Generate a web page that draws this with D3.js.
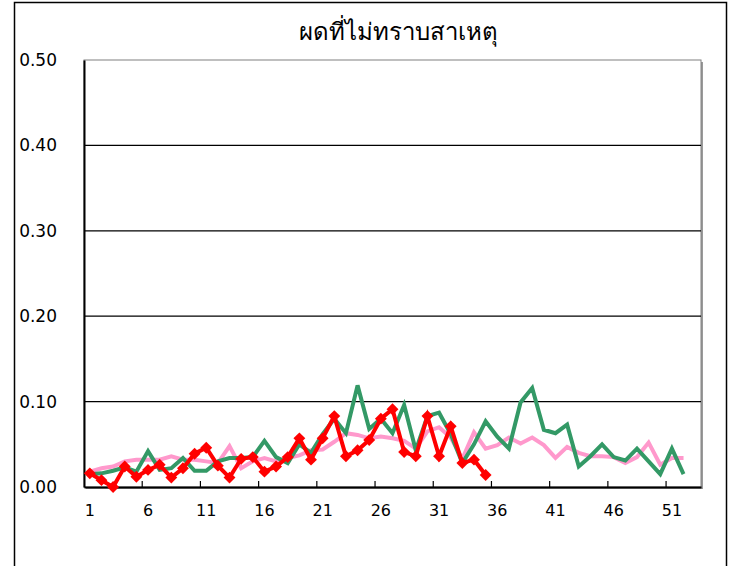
<!DOCTYPE html>
<html>
<head>
<meta charset="utf-8">
<script src="https://cdn.jsdelivr.net/npm/d3@7"></script>
<style>
  body { margin: 0; background: #fff; }
  text { font-family: "DejaVu Sans", sans-serif; }
</style>
</head>
<body>
<div id="chart"></div>
<script>
"use strict";

const weeks = d3.range(1, 54);
const yTicks = [0, 0.1, 0.2, 0.3, 0.4, 0.5];
const xLabelWeeks = [1, 6, 11, 16, 21, 26, 31, 36, 41, 46, 51];

// pink line (52 weeks)
const pinkValues = [0.018, 0.022, 0.024, 0.030, 0.032, 0.032, 0.032, 0.036, 0.032, 0.032,
    0.030, 0.028, 0.048, 0.022, 0.030, 0.034, 0.030, 0.034, 0.037, 0.043,
    0.044, 0.053, 0.063, 0.061, 0.057, 0.059, 0.057, 0.054, 0.045, 0.065,
    0.070, 0.058, 0.033, 0.064, 0.045, 0.049, 0.058, 0.051, 0.058, 0.049,
    0.034, 0.047, 0.040, 0.036, 0.036, 0.035, 0.028, 0.035, 0.052, 0.026,
    0.034, 0.034];
// green line (52 weeks)
const greenValues = [0.015, 0.016, 0.019, 0.023, 0.018, 0.042, 0.020, 0.022, 0.034, 0.019,
    0.019, 0.030, 0.034, 0.034, 0.035, 0.054, 0.035, 0.028, 0.050, 0.040,
    0.062, 0.080, 0.063, 0.119, 0.068, 0.080, 0.063, 0.096, 0.043, 0.083,
    0.087, 0.062, 0.028, 0.050, 0.077, 0.059, 0.045, 0.099, 0.116, 0.067,
    0.063, 0.073, 0.024, 0.036, 0.050, 0.035, 0.031, 0.045, 0.030, 0.015,
    0.045, 0.015];
// red line with diamonds (35 weeks)
const redValues = [0.016, 0.008, 0.000, 0.024, 0.012, 0.020, 0.026, 0.011, 0.022, 0.039,
    0.046, 0.025, 0.011, 0.033, 0.035, 0.018, 0.024, 0.035, 0.057, 0.032,
    0.057, 0.083, 0.036, 0.043, 0.055, 0.080, 0.091, 0.041, 0.036, 0.083,
    0.036, 0.071, 0.028, 0.032, 0.014];

const cont = { width: 732, height: 566, left: 84, right: 701, top: 60, bottom: 487 };

const svg = d3.select("#chart").append("svg")
    .attr("width", cont.width)
    .attr("height", cont.height);

// outer frame
svg.append("rect")
    .attr("x", 14.5).attr("y", 2.5)
    .attr("width", 712).attr("height", 600)
    .attr("fill", "none").attr("stroke", "#000").attr("stroke-width", 1.5);

svg.append("text")
    .attr("x", 398).attr("y", 40)
    .attr("text-anchor", "middle")
    .style("font-size", "24px")
    .text("ผดที่ไม่ทราบสาเหตุ");

const xScale = d3.scaleBand()
    .domain(weeks)
    .range([cont.left, cont.right]);
const yScale = d3.scaleLinear()
    .domain([0, 0.5])
    .range([cont.bottom, cont.top]);
const cx = (w) => xScale(w) + xScale.bandwidth() / 2;

// plot area shadow + border
svg.append("rect")
    .attr("x", cont.left + 2).attr("y", cont.top + 2)
    .attr("width", cont.right - cont.left).attr("height", cont.bottom - cont.top)
    .attr("fill", "#9a9a9a");
svg.append("rect")
    .attr("x", cont.left).attr("y", cont.top)
    .attr("width", cont.right - cont.left).attr("height", cont.bottom - cont.top)
    .attr("fill", "#fff").attr("stroke", "#808080").attr("stroke-width", 1);

// gridlines
svg.append("g").selectAll("line")
    .data(yTicks.filter(d => d > 0 && d < 0.5))
    .enter().append("line")
    .attr("x1", cont.left).attr("x2", cont.right)
    .attr("y1", d => yScale(d)).attr("y2", d => yScale(d))
    .attr("stroke", "#000").attr("stroke-width", 1.2);

// y axis
const yAxis = svg.append("g")
    .attr("transform", "translate(" + cont.left + ",0)")
    .call(d3.axisLeft(yScale).tickValues(yTicks).tickFormat(d3.format(".2f")).tickSize(0).tickPadding(27));
yAxis.select(".domain").attr("stroke", "#000").attr("stroke-width", 2);
yAxis.selectAll("text").style("font-size", "17px").attr("fill", "#000");

// x axis
const xAxis = svg.append("g")
    .attr("transform", "translate(0," + cont.bottom + ")")
    .call(d3.axisBottom(xScale).tickValues(xLabelWeeks).tickSize(0).tickPadding(18));
xAxis.select(".domain").attr("stroke", "#000").attr("stroke-width", 2);
xAxis.selectAll("text").style("font-size", "16px").attr("fill", "#000");

svg.append("g").selectAll("line")
    .data(xLabelWeeks.filter(d => d > 1))
    .enter().append("line")
    .attr("x1", d => xScale(d)).attr("x2", d => xScale(d))
    .attr("y1", cont.bottom).attr("y2", cont.bottom - 6)
    .attr("stroke", "#000").attr("stroke-width", 1.2);

function drawLine(values, color, width) {
    svg.append("path")
        .datum(values)
        .attr("fill", "none")
        .attr("stroke", color)
        .attr("stroke-width", width)
        .attr("stroke-linejoin", "miter")
        .attr("d", d3.line()
            .x((d, i) => cx(weeks[i]))
            .y(d => yScale(d)));
}

drawLine(pinkValues, "#ff99cc", 4);
drawLine(greenValues, "#339966", 4);
drawLine(redValues, "#ff0000", 4);

svg.append("g").selectAll("path")
    .data(redValues)
    .enter().append("path")
    .attr("d", d3.symbol().type(d3.symbolDiamond2).size(90))
    .attr("transform", (d, i) => "translate(" + cx(weeks[i]) + "," + yScale(d) + ")")
    .attr("fill", "#ff0000");
</script>
</body>
</html>
